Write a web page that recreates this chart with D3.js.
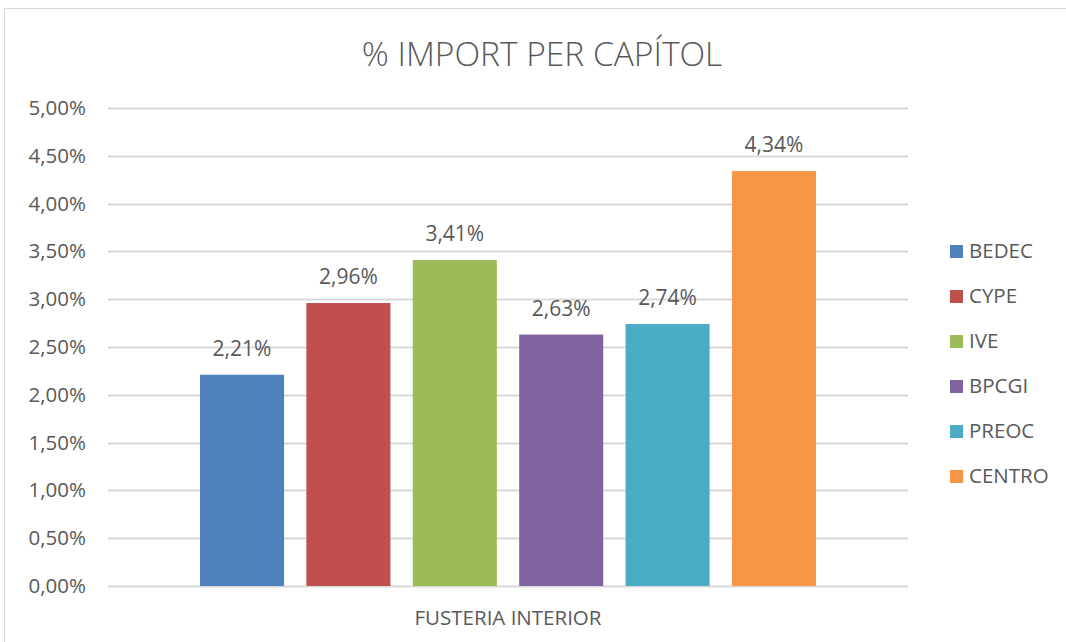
<!DOCTYPE html>
<html>
<head>
<meta charset="utf-8">
<script src="https://cdn.jsdelivr.net/npm/d3@7"></script>
<style>
  body { margin: 0; background: #fff; }
  text { font-family: "Open Sans", sans-serif; fill: #595959; }
</style>
</head>
<body>
<script>
// data
var series = ["BEDEC", "CYPE", "IVE", "BPCGI", "PREOC", "CENTRO"];
var values = [2.21, 2.96, 3.41, 2.63, 2.74, 4.34];
var colors = ["#4f81bd", "#c0504d", "#9bbb59", "#8064a2", "#4bacc6", "#f79646"];
var category = "FUSTERIA INTERIOR";
var ticks = [0, 0.5, 1, 1.5, 2, 2.5, 3, 3.5, 4, 4.5, 5];

var fmt = function(v) { return v.toFixed(2).replace(".", ",") + "%"; };

var svg = d3.select("body").append("svg")
  .attr("width", 1066)
  .attr("height", 642);

// chart frame
svg.append("rect")
  .attr("x", 4.5).attr("y", 8.5)
  .attr("width", 1080).attr("height", 660)
  .attr("fill", "#fff")
  .attr("stroke", "#d9d9d9")
  .attr("stroke-width", 1);

// title
svg.append("text")
  .attr("x", 542).attr("y", 66)
  .attr("text-anchor", "middle")
  .style("font-size", "33.5px")
  .style("font-weight", 300)
  .text("% IMPORT PER CAPÍTOL");

var y = d3.scaleLinear().domain([0, 5]).range([586, 108]);
var x0 = d3.scaleBand().domain([category]).range([108, 908]);
var x1 = d3.scaleBand().domain(series)
  .range([92, 708]).paddingInner(0.21).paddingOuter(0);

// gridlines
svg.append("g").selectAll("line").data(ticks).enter().append("line")
  .attr("x1", 108).attr("x2", 908)
  .attr("y1", function(d) { return Math.round(y(d)) + 0.5; })
  .attr("y2", function(d) { return Math.round(y(d)) + 0.5; })
  .attr("stroke", "#d9d9d9")
  .attr("stroke-width", 2);

// y axis labels
var yAxis = d3.axisLeft(y).tickValues(ticks).tickFormat(fmt).tickSize(0).tickPadding(0);
var ga = svg.append("g").attr("transform", "translate(86,0)").call(yAxis);
ga.select(".domain").remove();
ga.selectAll("text")
  .style("font-size", "20.5px")
  .style("fill", "#595959")
  .style("font-family", "Open Sans");

// bars
var g = svg.append("g").attr("transform", "translate(" + x0(category) + ",0)");
g.selectAll("rect").data(values).enter().append("rect")
  .attr("x", function(d, i) { return x1(series[i]); })
  .attr("y", function(d) { return y(d); })
  .attr("width", x1.bandwidth())
  .attr("height", function(d) { return y(0) - y(d); })
  .attr("fill", function(d, i) { return colors[i]; });

// value labels
g.selectAll("text.val").data(values).enter().append("text")
  .attr("class", "val")
  .attr("x", function(d, i) { return x1(series[i]) + x1.bandwidth() / 2; })
  .attr("y", function(d) { return y(d) - 19; })
  .attr("text-anchor", "middle")
  .style("font-size", "21px")
  .text(fmt);

// category label
svg.append("text")
  .attr("x", x0(category) + x0.bandwidth() / 2)
  .attr("y", 625)
  .attr("text-anchor", "middle")
  .style("font-size", "20.5px")
  .text(category);

// legend
var lg = svg.append("g").selectAll("g").data(series).enter().append("g")
  .attr("transform", function(d, i) { return "translate(950," + (251 + i * 45) + ")"; });
lg.append("rect")
  .attr("x", 0).attr("y", -6)
  .attr("width", 13).attr("height", 13)
  .attr("fill", function(d, i) { return colors[i]; });
lg.append("text")
  .attr("x", 19).attr("y", 7)
  .style("font-size", "20.5px")
  .text(function(d) { return d; });
</script>
</body>
</html>
